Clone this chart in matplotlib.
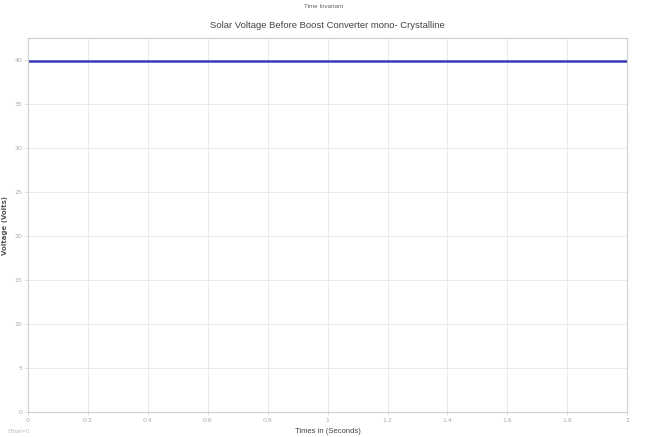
import matplotlib
matplotlib.use("Agg")
import matplotlib.pyplot as plt
import numpy as np

# Data
time_s = [0.0, 0.2, 0.4, 0.6, 0.8, 1.0, 1.2, 1.4, 1.6, 1.8, 2.0]
voltage_v = [39.9, 39.9, 39.9, 39.9, 39.9, 39.9, 39.9, 39.9, 39.9, 39.9, 39.9]
x_ticks = [0, 0.2, 0.4, 0.6, 0.8, 1, 1.2, 1.4, 1.6, 1.8, 2]
x_tick_labels = ["0", "0.2", "0.4", "0.6", "0.8", "1", "1.2", "1.4", "1.6", "1.8", "2"]
y_ticks = [0, 5, 10, 15, 20, 25, 30, 35, 40]
y_tick_labels = ["0", "5", "10", "15", "20", "25", "30", "35", "40"]

narrow = ["Liberation Sans Narrow", "Liberation Sans", "DejaVu Sans"]

fig = plt.figure(figsize=(6.48, 4.37), dpi=100)
ax = fig.add_axes([0.043, 0.057, 0.925, 0.856])

ax.plot(time_s, voltage_v, color="#3a3ab8", linewidth=1.8)

ax.set_xlim(0, 2)
ax.set_ylim(0, 42.5)
ax.set_xticks(x_ticks)
ax.set_xticklabels(x_tick_labels, fontsize=4.5, color="#aaaaaa")
ax.set_yticks(y_ticks)
ax.set_yticklabels(y_tick_labels, fontsize=4.5, color="#aaaaaa")
ax.tick_params(length=2, width=0.5, colors="#cccccc", labelcolor="#aaaaaa", pad=2)
ax.grid(True, color="#e6e6e6", linewidth=0.6)
for s in ax.spines.values():
    s.set_color("#cfcfcf")
    s.set_linewidth(0.8)

ax.set_title("Solar Voltage Before Boost Converter mono- Crystalline",
             fontsize=6.8, color="#444444", family=narrow, pad=7)
ax.set_xlabel("Times in (Seconds)", fontsize=5.5, color="#444444", family=narrow, labelpad=4)
ax.set_ylabel("Voltage (Volts)", fontsize=5, color="#555555", fontweight="bold")
ax.yaxis.set_label_coords(-0.033, 0.5)

fig.text(0.5, 0.99, "Time Invariant", ha="center", va="top", fontsize=4.5, color="#666666", family=narrow)
fig.text(0.012, 0.008, "Offset=0", ha="left", va="bottom", fontsize=3.5, color="#bbbbbb")

fig.savefig("out.png", dpi=100, facecolor="white")
